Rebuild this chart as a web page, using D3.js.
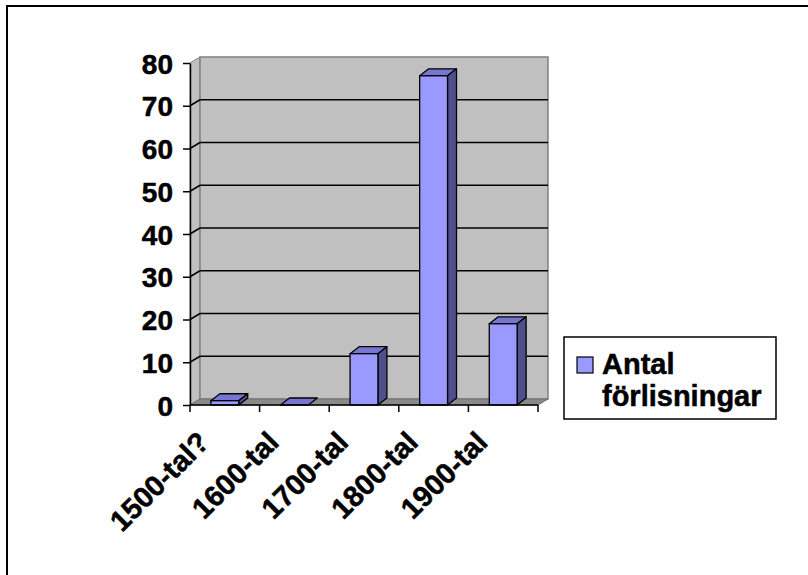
<!DOCTYPE html>
<html>
<head>
<meta charset="utf-8">
<script src="https://cdn.jsdelivr.net/npm/d3@7"></script>
<style>
  html, body { margin: 0; padding: 0; background: #fff; }
  svg { display: block; }
  text { font-family: "Liberation Sans", Arial, sans-serif; font-weight: bold; stroke: #000; stroke-width: 0.5px; }
</style>
</head>
<body>
<svg id="chart" width="808" height="575"></svg>
<script>
// Shipwrecks per century
const categories = ["1500-tal?", "1600-tal", "1700-tal", "1800-tal", "1900-tal"];
const values = [1, 0, 12, 77, 19];
const yTicks = [0, 10, 20, 30, 40, 50, 60, 70, 80];
const seriesName = ["Antal", "förlisningar"];

const svg = d3.select("#chart");

// outer frame
svg.append("rect")
  .attr("x", 7).attr("y", 6).attr("width", 830).attr("height", 620)
  .attr("fill", "none").attr("stroke", "#000").attr("stroke-width", 2);

const x0 = 190, x1 = 538, yBottom = 405, yTop = 63;
const wallDx = 10, wallDy = -6;
const barDx = 9, barDy = -7;

const x = d3.scaleBand().domain(categories).range([x0, x1]).padding(0);
const y = d3.scaleLinear().domain([0, 80]).range([yBottom, yTop]);
const bw = x.bandwidth();
const barW = bw * 0.4;

const line = d3.line();
const poly = pts => line(pts) + "Z";

// left side wall
svg.append("path")
  .attr("d", poly([[x0, y(0)], [x0, y(80)], [x0 + wallDx, y(80) + wallDy], [x0 + wallDx, y(0) + wallDy]]))
  .attr("fill", "#c0c0c0").attr("stroke", "#808080").attr("stroke-width", 1);

// back wall
svg.append("path")
  .attr("d", poly([[x0 + wallDx, y(80) + wallDy], [x1 + wallDx, y(80) + wallDy], [x1 + wallDx, y(0) + wallDy], [x0 + wallDx, y(0) + wallDy]]))
  .attr("fill", "#c0c0c0").attr("stroke", "#808080").attr("stroke-width", 1.5);

// floor
svg.append("path")
  .attr("d", poly([[x0, y(0)], [x1, y(0)], [x1 + wallDx, y(0) + wallDy], [x0 + wallDx, y(0) + wallDy]]))
  .attr("fill", "#8a8a8a").attr("stroke", "#707070").attr("stroke-width", 1);

// gridlines on back and side walls
const gridVals = yTicks.filter(v => v > 0 && v < 80);
svg.append("g").selectAll("line.back").data(gridVals).join("line")
  .attr("x1", x0 + wallDx).attr("x2", x1 + wallDx)
  .attr("y1", d => y(d) + wallDy).attr("y2", d => y(d) + wallDy)
  .attr("stroke", "#000").attr("stroke-width", 1.5);
svg.append("g").selectAll("line.side").data(gridVals).join("line")
  .attr("x1", x0).attr("x2", x0 + wallDx)
  .attr("y1", d => y(d)).attr("y2", d => y(d) + wallDy)
  .attr("stroke", "#000").attr("stroke-width", 1.5);

// 3D columns
const bars = svg.append("g").selectAll("g").data(categories.map((c, i) => ({ c, v: values[i] }))).join("g");
bars.each(function (d) {
  const g = d3.select(this);
  const bx = x(d.c) + (bw - barW) / 2;
  const yt = y(d.v), yb = y(0);
  g.append("path")
    .attr("d", poly([[bx, yt], [bx + barW, yt], [bx + barW + barDx, yt + barDy], [bx + barDx, yt + barDy]]))
    .attr("fill", "#7676d2").attr("stroke", "#000").attr("stroke-width", 1.3).attr("stroke-linejoin", "round");
  if (d.v > 0) {
    g.append("path")
      .attr("d", poly([[bx + barW, yt], [bx + barW + barDx, yt + barDy], [bx + barW + barDx, yb + barDy], [bx + barW, yb]]))
      .attr("fill", "#4f4f8c").attr("stroke", "#000").attr("stroke-width", 1.3).attr("stroke-linejoin", "round");
    g.append("rect")
      .attr("x", bx).attr("y", yt).attr("width", barW).attr("height", yb - yt)
      .attr("fill", "#9999ff").attr("stroke", "#000").attr("stroke-width", 1.3);
  }
});

// value axis
const yAxis = svg.append("g")
  .attr("transform", `translate(${x0},0)`)
  .call(d3.axisLeft(y).tickValues(yTicks).tickSize(7).tickPadding(10).tickSizeOuter(0));
yAxis.select(".domain").attr("stroke", "#000").attr("stroke-width", 1.5);
yAxis.selectAll(".tick line").attr("stroke", "#000").attr("stroke-width", 1.5);
yAxis.selectAll(".tick text")
  .attr("font-size", 28).attr("font-family", "Liberation Sans, Arial, sans-serif")
  .attr("font-weight", "bold").attr("fill", "#000").attr("dy", "0.36em");

// category axis with ticks at band edges
const edges = categories.map(c => x(c)).concat([x1]);
svg.append("line")
  .attr("x1", x0).attr("x2", x1).attr("y1", y(0)).attr("y2", y(0))
  .attr("stroke", "#000").attr("stroke-width", 1.5);
svg.append("g").selectAll("line").data(edges).join("line")
  .attr("x1", d => d).attr("x2", d => d).attr("y1", y(0)).attr("y2", y(0) + 7)
  .attr("stroke", "#000").attr("stroke-width", 1.5);
svg.append("g").selectAll("text").data(categories).join("text")
  .attr("transform", d => `translate(${x(d) + bw / 2 - 14},${y(0) + 39}) rotate(-45)`)
  .attr("text-anchor", "end")
  .attr("font-size", 29)
  .text(d => d);

// legend
const lg = svg.append("g");
lg.append("rect").attr("x", 564).attr("y", 337).attr("width", 212).attr("height", 82)
  .attr("fill", "#fff").attr("stroke", "#000").attr("stroke-width", 1.5);
lg.append("rect").attr("x", 577).attr("y", 357).attr("width", 16).attr("height", 16)
  .attr("fill", "#9999ff").attr("stroke", "#000").attr("stroke-width", 1.2);
lg.selectAll("text.lab").data(seriesName).join("text")
  .attr("x", 602).attr("y", (d, i) => 374 + i * 32)
  .attr("font-size", 29)
  .text(d => d);
</script>
</body>
</html>
